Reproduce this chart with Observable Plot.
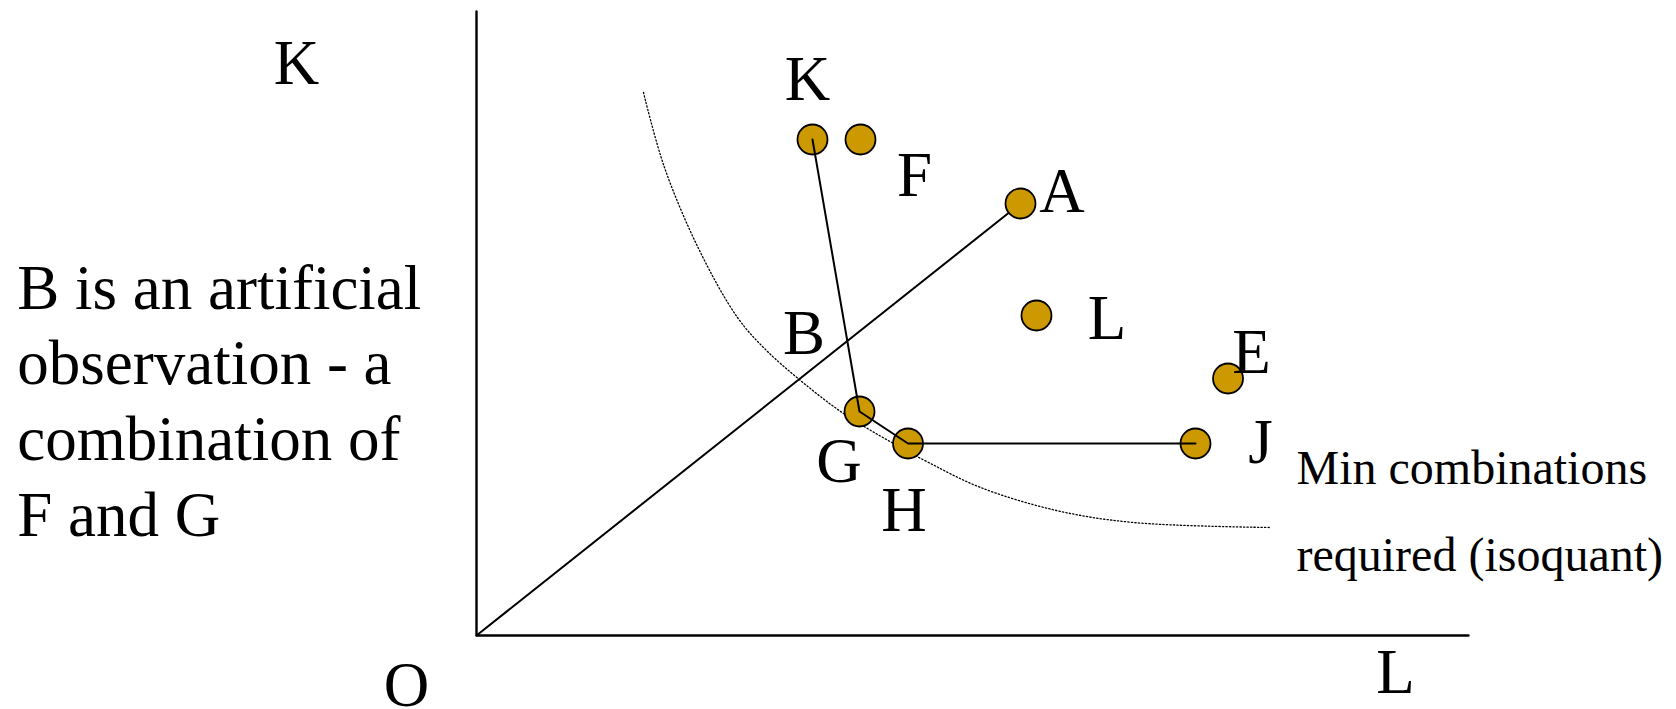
<!DOCTYPE html>
<html><head><meta charset="utf-8">
<script src="https://cdn.jsdelivr.net/npm/d3@7"></script>
<script src="https://cdn.jsdelivr.net/npm/@observablehq/plot@0.6"></script>
<style>html,body{margin:0;padding:0;background:#fff;overflow:hidden} #chart svg{display:block;overflow:visible} #chart svg text{font-family:"Liberation Serif","Times New Roman",serif !important}</style>
</head><body><div id="chart"></div>
<script>
// Observations (firms): input combinations, L on x, K on y
const pointNames = ["K", "F", "A", "L", "E", "G", "H", "J"];
const pointX = [33.87, 38.71, 54.84, 56.45, 75.76, 38.61, 43.50, 72.48];
const pointY = [49.6, 49.6, 43.2, 32.0, 25.7, 22.4, 19.2, 19.2];

// Point labels
const labelNames = ["K", "F", "A", "L", "E", "B", "G", "H", "J"];
const labelX = [33.37, 44.15, 59.02, 63.56, 78.13, 33.01, 36.54, 43.09, 79.03];
const labelY = [53.6, 44.0, 42.33, 29.7, 26.3, 28.2, 15.33, 10.5, 17.3];

// Efficient frontier and ray from origin
const frontierNames = ["K", "G", "H", "J"];
const rayNames = ["O", "A"];

// Isoquant (dotted curve)
const isoquantX = [16.83, 18.95, 22.48, 26.31, 29.03, 32.66, 37.00, 42.04, 45.77, 50.81, 58.47, 66.23, 80.04];
const isoquantY = [54.3, 46.8, 38.5, 31.8, 28.7, 25.5, 22.2, 19.2, 17.2, 14.8, 12.5, 11.3, 10.8];

// Axis extents and axis labels
const xMax = 100, yMax = 62.4;
const axisLabelNames = ["K", "O", "L"];
const axisLabelX = [-18.15, -7.06, 92.64];
const axisLabelY = [55.2, -7.0, -5.7];

// Notes
const noteLines = ["B is an artificial", "observation - a", "combination of", "F and G"];
const isoquantNoteLines = ["Min combinations", "required (isoquant)"];

const pts = pointNames.map((n, i) => ({name: n, x: pointX[i], y: pointY[i]}));
const byName = Object.fromEntries(pts.map(d => [d.name, d]));
byName.O = {name: "O", x: 0, y: 0};
const labels = labelNames.map((n, i) => ({name: n, x: labelX[i], y: labelY[i]}));
const frontier = frontierNames.map(n => byName[n]);
const ray = rayNames.map(n => byName[n]);
const iso = isoquantX.map((x, i) => ({x, y: isoquantY[i]}));
const axisLabels = axisLabelNames.map((n, i) => ({name: n, x: axisLabelX[i], y: axisLabelY[i]}));

const serif = "Liberation Serif";

const chart = Plot.plot({
  width: 1676,
  height: 709,
  marginLeft: 476,
  marginRight: 208,
  marginTop: 11,
  marginBottom: 74,
  x: {domain: [0, xMax], axis: null},
  y: {domain: [0, yMax], axis: null},
  style: {fontFamily: serif, background: "#fff", overflow: "visible"},
  marks: [
    // axes
    Plot.line([{x: 0, y: yMax}, {x: 0, y: 0}, {x: xMax, y: 0}], {x: "x", y: "y", stroke: "#000", strokeWidth: 2.4}),
    // isoquant
    Plot.line(iso, {x: "x", y: "y", curve: "catmull-rom", stroke: "#000", strokeWidth: 1.3, strokeDasharray: "1.3,2.2"}),
    // ray from origin to A
    Plot.line(ray, {x: "x", y: "y", stroke: "#000", strokeWidth: 2}),
    // observations
    Plot.dot(pts, {x: "x", y: "y", r: 15, fill: "#cc9900", stroke: "#000", strokeWidth: 1.8}),
    // frontier on top
    Plot.line(frontier, {x: "x", y: "y", stroke: "#000", strokeWidth: 2}),
    // point labels
    Plot.text(labels, {x: "x", y: "y", text: "name", fontFamily: serif, fontSize: 63, lineAnchor: "bottom", textAnchor: "middle", fill: "#000"}),
    // axis labels
    Plot.text(axisLabels, {x: "x", y: "y", text: "name", fontFamily: serif, fontSize: 63, lineAnchor: "bottom", textAnchor: "middle", fill: "#000"}),
    // left note
    Plot.text([noteLines.join("\n")], {x: -46.3, y: 10.0, text: d => d, fontFamily: serif, fontSize: 63, lineHeight: 1.2, lineAnchor: "bottom", textAnchor: "start", fill: "#000"}),
    // isoquant note
    Plot.text([isoquantNoteLines.join("\n")], {x: 82.66, y: 6.5, text: d => d, fontFamily: serif, fontSize: 48, lineHeight: 1.81, lineAnchor: "bottom", textAnchor: "start", fill: "#000"})
  ]
});
document.getElementById("chart").appendChild(chart);
</script>
</body></html>
